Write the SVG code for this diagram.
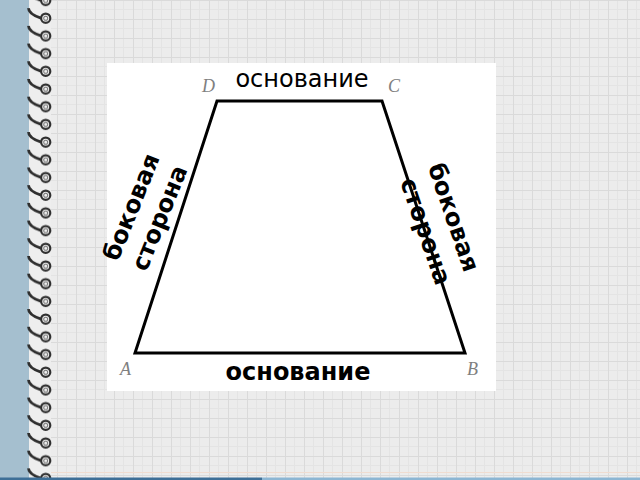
<svg xmlns="http://www.w3.org/2000/svg" width="640" height="480" viewBox="0 0 640 480">
<style>
.lbl{font-family:"DejaVu Sans","Liberation Sans",sans-serif;fill:#000}
.b{font-weight:bold;font-size:24px}
.pt{font-family:"Liberation Serif",serif;font-style:italic;font-size:18px;fill:#808080}
</style>
<defs>
<pattern id="grid" patternUnits="userSpaceOnUse" x="0" y="0" width="19" height="19">
<rect width="19" height="19" fill="#ececec"/>
<path d="M9.5 0V19M0 9.5H19" stroke="#e4e4e4" stroke-width="1"/>
<path d="M0.5 0V19M0 0.5H19" stroke="#dadada" stroke-width="1"/>
</pattern>
<pattern id="coil" patternUnits="userSpaceOnUse" x="20" y="-11.5" width="40" height="17.7">
<path d="M8.5 2 C8.5 6 12 9 21 12" fill="none" stroke="#2e2e2e" stroke-width="2.8"/>
<circle cx="25.7" cy="12" r="4.6" fill="#f0f0f0" stroke="#2e2e2e" stroke-width="2.2"/>
<circle cx="25.7" cy="12" r="2" fill="none" stroke="#777" stroke-width="1"/>
</pattern>
</defs>
<rect x="0" y="0" width="640" height="480" fill="url(#grid)"/>
<rect x="29" y="0" width="22" height="480" fill="#eeeeee"/>
<rect x="0" y="0" width="29" height="480" fill="#a5bfcf"/>
<rect x="20" y="0" width="40" height="480" fill="url(#coil)"/>
<line x1="51" y1="472.5" x2="640" y2="472.5" stroke="#f0dcd0" stroke-width="1"/>
<rect x="0" y="477.5" width="262" height="2.5" fill="#3e6f97"/>
<rect x="262" y="477.5" width="378" height="2.5" fill="#8db6d3"/>
<g id="panel">
<rect x="107" y="63" width="389" height="328" fill="#ffffff"/>
</g>
<g id="trapezoid">
<polygon points="217,101 382,101 465,353 135,353" fill="#ffffff" stroke="#000" stroke-width="3" stroke-linejoin="miter"/>
</g>
<g id="vertices">
<text class="pt" x="202" y="92">D</text>
<text class="pt" x="388" y="92">C</text>
<text class="pt" x="120" y="375">A</text>
<text class="pt" x="467" y="375">B</text>
</g>
<g id="labels">
<text class="lbl" x="302" y="87" font-size="24" text-anchor="middle">основание</text>
<text class="lbl b" x="298" y="380" text-anchor="middle">основание</text>
<text class="lbl b" text-anchor="middle" transform="translate(139,210) rotate(-68)">боковая</text>
<text class="lbl b" text-anchor="middle" transform="translate(167,221) rotate(-68)">сторона</text>
<text class="lbl b" text-anchor="middle" transform="translate(446,220) rotate(71)">боковая</text>
<text class="lbl b" text-anchor="middle" transform="translate(418,234) rotate(71)">сторона</text>
</g>
</svg>
